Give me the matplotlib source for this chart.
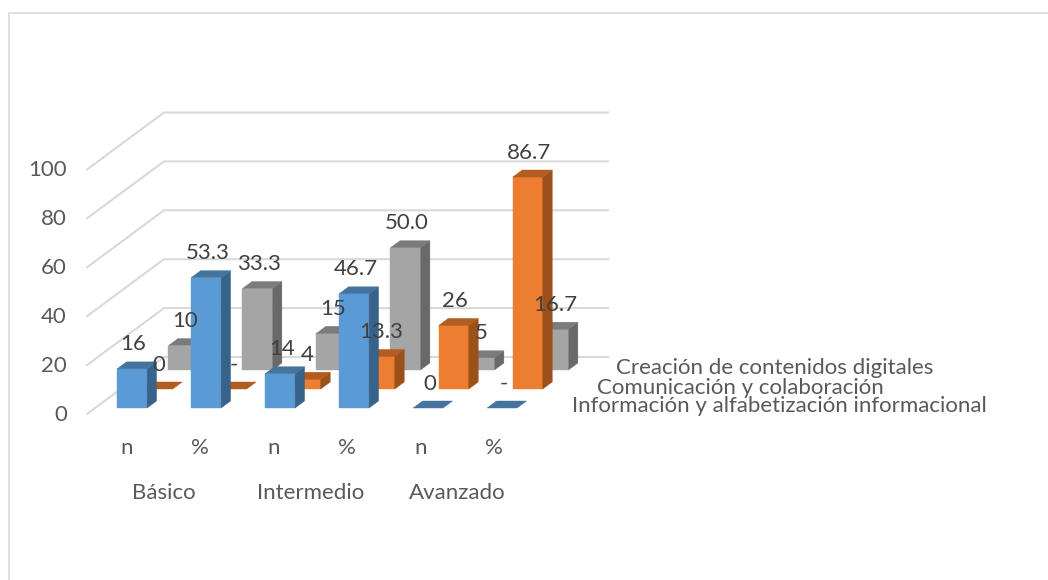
import matplotlib
matplotlib.use("Agg")
import matplotlib.pyplot as plt
from matplotlib.patches import Polygon

plt.rcParams["font.family"] = ["Lato", "DejaVu Sans"]

# -------------------- Data --------------------

sub_labels = ["n", "%", "n", "%", "n", "%"]
levels = ["Básico", "Intermedio", "Avanzado"]
y_ticks = [0, 20, 40, 60, 80, 100]

info_values = [16, 53.3, 14, 46.7, 0, 0]
comm_values = [0, 0, 4, 13.3, 26, 86.7]
crea_values = [10, 33.3, 15, 50.0, 5, 16.7]

info_labels = ["16", "53.3", "14", "46.7", "0", "-"]
comm_labels = ["0", "-", "4", "13.3", "26", "86.7"]
crea_labels = ["10", "33.3", "15", "50.0", "5", "16.7"]

series_names = [
    "Información y alfabetización informacional",
    "Comunicación y colaboración",
    "Creación de contenidos digitales",
]

# -------------------- Oblique projection --------------------

ORIGIN_X, ORIGIN_Y = 87, 414
STEP_X = 74          # px per category
LABEL_STEP = 73.4    # category labels sit a little tighter than the bars
UNIT_Y = 2.445       # px per value unit
DEPTH_X, DEPTH_Y = 77, -57   # px across the whole floor depth
BAR_W = 0.405        # in categories
BAR_D = 0.123        # in floor depth
FONT_SIZE = 16
TEXT = "#404040"
AXIS_TEXT = "#595959"
GRID = "#D9D9D9"


def project(x, depth, value):
    px = ORIGIN_X + x * STEP_X + depth * DEPTH_X
    py = ORIGIN_Y + depth * DEPTH_Y - value * UNIT_Y
    return px, py


def draw_bar(ax, i, row, value, colors, label):
    front, top, side = colors
    x0 = i + (1 - BAR_W) / 2
    x1 = x0 + BAR_W
    d0 = (row + 0.5) / 3 - BAR_D / 2
    d1 = d0 + BAR_D
    if value > 0:
        ax.add_patch(Polygon([project(x0, d0, 0), project(x1, d0, 0),
                              project(x1, d0, value), project(x0, d0, value)],
                             fc=front, ec=front, lw=0.3, zorder=3 + (2 - row) * 3))
        ax.add_patch(Polygon([project(x1, d0, 0), project(x1, d1, 0),
                              project(x1, d1, value), project(x1, d0, value)],
                             fc=side, ec=side, lw=0.3, zorder=3 + (2 - row) * 3))
    ax.add_patch(Polygon([project(x0, d0, value), project(x1, d0, value),
                          project(x1, d1, value), project(x0, d1, value)],
                         fc=top, ec=top, lw=0.3, zorder=3 + (2 - row) * 3))
    px, py = project((x0 + x1) / 2, d0, value)
    ax.text(px + 1.5, py - 24.5, label, color=TEXT, fontsize=FONT_SIZE,
            ha="center", va="center", zorder=20)


# -------------------- Figure --------------------

fig = plt.figure(figsize=(10.48, 5.80), dpi=100)
ax = fig.add_axes([0, 0, 1, 1])
ax.set_xlim(0, 1048)
ax.set_ylim(580, 0)
ax.axis("off")

# chart border, only the top and left edges show
ax.plot([9, 9, 1048], [580, 12.5, 12.5], color=GRID, lw=1.2, zorder=0, solid_joinstyle="miter")

# floor and back wall gridlines
for t in y_ticks:
    xs, ys = zip(project(0, 0, t), project(0, 1, t), project(6, 1, t))
    ax.plot(xs, ys, color=GRID, lw=1.5, zorder=1, solid_joinstyle="miter")
    tx, ty = project(0, 0, t)
    ax.text(tx - 20, ty + 1, str(t), color=AXIS_TEXT, fontsize=FONT_SIZE, ha="right", va="center")

bar_colors = [
    ("#5B9BD5", "#44739F", "#37638A"),
    ("#ED7D31", "#B25C20", "#9C5118"),
    ("#A5A5A5", "#7B7B7B", "#696969"),
]
rows = [(2, crea_values, crea_labels), (1, comm_values, comm_labels), (0, info_values, info_labels)]
for row, values, labels in rows:
    for i in range(len(values)):
        draw_bar(ax, i, row, values[i], bar_colors[row], labels[i])

# category axis, two levels
for i, lab in enumerate(sub_labels):
    px = ORIGIN_X + 3 + (i + 0.5) * LABEL_STEP
    ax.text(px, 448, lab, color=AXIS_TEXT, fontsize=FONT_SIZE, ha="center", va="center")
for i, lab in enumerate(levels):
    px = ORIGIN_X + 3 + (i * 2 + 1) * LABEL_STEP
    ax.text(px, 493, lab, color=AXIS_TEXT, fontsize=FONT_SIZE, ha="center", va="center")

# series names along the depth axis
name_x = [572, 597, 616]
for row, name in enumerate(series_names):
    _, py = project(6, (row + 0.5) / 3, 0)
    ax.text(name_x[row], py + 2, name, color=AXIS_TEXT, fontsize=FONT_SIZE, ha="left", va="center", zorder=21)

fig.savefig("out.png", dpi=100)
